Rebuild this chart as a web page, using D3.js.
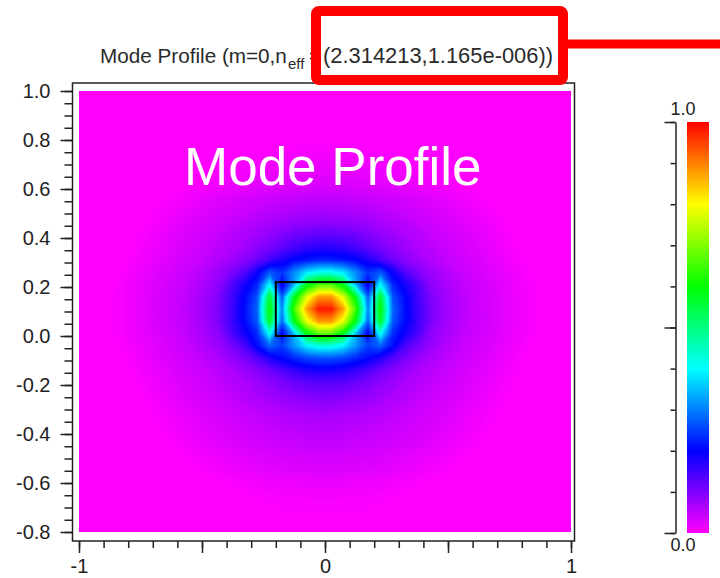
<!DOCTYPE html>
<html>
<head>
<meta charset="utf-8">
<script src="https://cdn.jsdelivr.net/npm/d3@7"></script>
<style>
  body { margin: 0; background: #fff; }
  svg { display: block; }
  text { font-family: "Liberation Sans", Arial, sans-serif; }
</style>
</head>
<body>
<svg id="chart" width="720" height="578"></svg>
<script>
// axis ticks and labels
const xTicks = [-1, 0, 1];
const yTicks = [-0.8, -0.6, -0.4, -0.2, 0, 0.2, 0.4, 0.6, 0.8, 1.0];
const cbarTicks = [0, 1];

// colour map of the solver (value -> colour)
const colorStops = [0, 0.2, 0.4, 0.6, 0.8, 1];
const colorRamp = ["#ff00ff", "#0000ff", "#00ffff", "#00ff00", "#ffff00", "#ff0000"];

// waveguide core outline
const coreX = [-0.2, 0.2];
const coreY = [0, 0.22];

// effective index shown in the title
const neff = ["2.314213", "1.165e-006"];

// sampled mode intensity, per mille of the peak, read off the picture
// columns: x = -0.875 .. 0.875 (step 0.05), rows: y = 0.76 .. -0.69 (step 0.05)
const gridX0 = -0.875, gridY0 = 0.76, gridStep = 0.05;
const intensity = [
  [0,0,0,0,0,0,0,0,0,0,0,0,1,1,2,3,4,4,4,4,3,2,1,1,0,0,0,0,0,0,0,0,0,0,0,0],
  [0,0,0,0,0,0,0,0,0,1,2,4,6,8,10,11,13,13,13,13,11,10,8,6,4,2,1,0,0,0,0,0,0,0,0,0],
  [0,0,0,0,0,0,0,0,1,4,7,10,13,15,18,20,20,21,21,20,20,18,15,13,10,7,4,1,0,0,0,0,0,0,0,0],
  [0,0,0,0,0,0,1,4,7,11,15,19,22,25,28,29,31,32,32,31,29,28,25,22,19,15,11,7,4,1,0,0,0,0,0,0],
  [0,0,0,0,1,4,8,13,19,24,29,33,37,40,43,46,48,49,49,48,46,43,40,37,33,29,24,19,13,8,4,1,0,0,0,0],
  [0,0,0,1,4,8,15,21,27,32,37,42,48,53,59,62,65,67,67,65,62,59,53,48,42,37,32,27,21,15,8,4,1,0,0,0],
  [0,0,0,3,8,15,21,28,34,39,46,54,62,69,76,84,88,90,90,88,84,76,69,62,54,46,39,34,28,21,15,8,3,0,0,0],
  [0,0,1,6,13,20,27,34,39,47,57,66,76,87,100,114,122,126,126,122,114,100,87,76,66,57,47,39,34,27,20,13,6,1,0,0],
  [0,0,3,8,15,23,30,36,44,54,64,75,89,107,125,145,160,168,168,160,145,125,107,89,75,64,54,44,36,30,23,15,8,3,0,0],
  [0,1,5,12,20,27,34,41,51,63,75,92,116,146,177,203,217,227,227,217,203,177,146,116,92,75,63,51,41,34,27,20,12,5,1,0],
  [0,3,9,17,25,32,41,50,63,80,103,134,192,270,240,310,380,410,410,380,310,240,270,192,134,103,80,63,50,41,32,25,17,9,3,0],
  [1,5,12,20,28,36,45,57,71,91,141,184,230,400,180,340,570,660,660,570,340,180,400,230,184,141,91,71,57,45,36,28,20,12,5,1],
  [1,6,13,22,30,38,48,62,78,104,150,205,265,560,270,570,770,880,880,770,570,270,560,265,205,150,104,78,62,48,38,30,22,13,6,1],
  [1,6,14,22,31,39,49,63,80,109,155,210,280,600,300,650,870,980,980,870,650,300,600,280,210,155,109,80,63,49,39,31,22,14,6,1],
  [1,6,14,22,31,39,48,62,80,106,155,208,270,570,280,580,780,880,880,780,580,280,570,270,208,155,106,80,62,48,39,31,22,14,6,1],
  [1,6,13,20,29,36,46,59,73,93,144,187,235,410,190,350,580,670,670,580,350,190,410,235,187,144,93,73,59,46,36,29,20,13,6,1],
  [0,3,9,18,25,33,41,51,64,82,109,141,210,280,250,320,390,420,420,390,320,250,280,210,141,109,82,64,51,41,33,25,18,9,3,0],
  [0,1,6,13,22,29,36,45,55,67,84,106,135,174,206,232,252,263,263,252,232,206,174,135,106,84,67,55,45,36,29,22,13,6,1,0],
  [0,0,4,9,17,24,32,38,46,56,67,79,95,115,137,159,175,183,183,175,159,137,115,95,79,67,56,46,38,32,24,17,9,4,0,0],
  [0,0,1,6,13,20,27,34,40,48,57,67,78,89,103,116,125,130,130,125,116,103,89,78,67,57,48,40,34,27,20,13,6,1,0,0],
  [0,0,1,4,10,17,24,30,36,43,50,59,67,76,85,92,100,105,105,100,92,85,76,67,59,50,43,36,30,24,17,10,4,1,0,0],
  [0,0,0,2,6,12,19,25,32,36,42,48,56,62,68,73,75,79,79,75,73,68,62,56,48,42,36,32,25,19,12,6,2,0,0,0],
  [0,0,0,1,4,8,14,20,26,32,36,41,46,51,56,60,62,64,64,62,60,56,51,46,41,36,32,26,20,14,8,4,1,0,0,0],
  [0,0,0,0,1,6,10,16,22,27,32,36,40,43,48,50,53,55,55,53,50,48,43,40,36,32,27,22,16,10,6,1,0,0,0,0],
  [0,0,0,0,0,3,7,12,18,22,27,32,35,38,41,43,45,46,46,45,43,41,38,35,32,27,22,18,12,7,3,0,0,0,0,0],
  [0,0,0,0,0,0,2,6,9,14,18,22,26,29,32,34,34,35,35,34,34,32,29,26,22,18,14,9,6,2,0,0,0,0,0,0],
  [0,0,0,0,0,0,0,2,5,8,13,16,20,22,25,27,27,28,28,27,27,25,22,20,16,13,8,5,2,0,0,0,0,0,0,0],
  [0,0,0,0,0,0,0,0,1,2,4,6,9,12,14,15,16,17,17,16,15,14,12,9,6,4,2,1,0,0,0,0,0,0,0,0],
  [0,0,0,0,0,0,0,0,0,0,1,2,4,6,7,8,8,9,9,8,8,7,6,4,2,1,0,0,0,0,0,0,0,0,0,0],
  [0,0,0,0,0,0,0,0,0,0,0,1,1,2,3,3,4,4,4,4,3,3,2,1,1,0,0,0,0,0,0,0,0,0,0,0]
];

const svg = d3.select("#chart");
const ink = "#222";

const x = d3.scaleLinear().domain([-1, 1]).range([79, 571]);
const y = d3.scaleLinear().domain([-0.8, 1]).range([532, 91]);
const color = d3.scaleLinear().domain(colorStops).range(colorRamp)
  .interpolate(d3.interpolateRgb).clamp(true);

// ---- field ----
svg.append("rect")
  .attr("x", x(-1)).attr("y", y(1))
  .attr("width", x(1) - x(-1)).attr("height", y(-0.8) - y(1))
  .attr("fill", color(0));

const nx = intensity[0].length, ny = intensity.length;
const levels = d3.range(3, 1000, 3);
const contours = d3.contours().size([nx, ny]).thresholds(levels)(intensity.flat());

const toPx = d3.geoTransform({
  point: function(gx, gy) {
    this.stream.point(x(gridX0 + (gx - 0.5) * gridStep), y(gridY0 - (gy - 0.5) * gridStep));
  }
});
const path = d3.geoPath(toPx);

svg.append("g")
  .selectAll("path")
  .data(contours)
  .join("path")
    .attr("d", path)
    .attr("fill", d => color((d.value + 1.5) / 1000));

// core outline
svg.append("rect")
  .attr("x", x(coreX[0])).attr("y", y(coreY[1]))
  .attr("width", x(coreX[1]) - x(coreX[0]))
  .attr("height", y(coreY[0]) - y(coreY[1]))
  .attr("fill", "none")
  .attr("stroke", "#000")
  .attr("stroke-width", 2);

svg.append("text")
  .attr("x", 184).attr("y", 185)
  .attr("font-size", 53)
  .attr("fill", "#fff")
  .text("Mode Profile");

// ---- frame and axes ----
svg.append("rect")
  .attr("x", 72.5).attr("y", 83)
  .attr("width", 502).attr("height", 458)
  .attr("fill", "none")
  .attr("stroke", ink)
  .attr("stroke-width", 1.5);

function styleAxis(g) {
  g.select(".domain").remove();
  g.selectAll("line").attr("stroke", ink).attr("stroke-width", 1.5);
  g.selectAll("text").attr("fill", ink).attr("font-size", 20)
    .attr("font-family", '"Liberation Sans", Arial, sans-serif');
}

const yMinor = d3.range(-16, 21).map(i => i * 0.05);
svg.append("g").attr("transform", "translate(72.5,0)")
  .call(d3.axisLeft(y).tickValues(yMinor).tickSize(8).tickFormat(""))
  .call(styleAxis);
svg.append("g").attr("transform", "translate(72.5,0)")
  .call(d3.axisLeft(y).tickValues(yTicks).tickSize(12).tickPadding(10)
    .tickFormat(d => d.toFixed(1)))
  .call(styleAxis);

const xMinor = d3.range(-10, 11).map(i => i / 10);
const xMajor = d3.range(-2, 3).map(i => i / 2);
svg.append("g").attr("transform", "translate(0,541)")
  .call(d3.axisBottom(x).tickValues(xMinor).tickSize(7).tickFormat(""))
  .call(styleAxis);
svg.append("g").attr("transform", "translate(0,541)")
  .call(d3.axisBottom(x).tickValues(xMajor).tickSize(12).tickPadding(6)
    .tickFormat(d => xTicks.includes(d) ? String(d) : ""))
  .call(styleAxis);

// ---- colour bar ----
const cb = d3.scaleLinear().domain([0, 1]).range([533, 122]);
const grad = svg.append("defs").append("linearGradient")
  .attr("id", "cbar").attr("x1", 0).attr("y1", 1).attr("x2", 0).attr("y2", 0);
grad.selectAll("stop").data(colorStops).join("stop")
  .attr("offset", d => d)
  .attr("stop-color", (d, i) => colorRamp[i]);

svg.append("rect")
  .attr("x", 687).attr("y", cb(1))
  .attr("width", 22).attr("height", cb(0) - cb(1))
  .attr("fill", "url(#cbar)");

svg.append("g").attr("transform", "translate(675.5,0)")
  .call(d3.axisLeft(cb).tickValues(d3.range(0, 11).map(i => i / 10)).tickSize(5).tickSizeOuter(0).tickFormat(""))
  .call(g => g.select(".domain").attr("stroke", ink).attr("stroke-width", 1.5))
  .call(g => g.selectAll("line").attr("stroke", ink).attr("stroke-width", 1.5));
svg.append("g").attr("transform", "translate(675.5,0)")
  .call(d3.axisLeft(cb).tickValues([0, 0.5, 1]).tickSize(11).tickFormat(""))
  .call(styleAxis);

svg.selectAll(".cblabel")
  .data(cbarTicks)
  .join("text")
    .attr("class", "cblabel")
    .attr("x", 683)
    .attr("y", d => d === 1 ? cb(d) - 7 : cb(d) + 18)
    .attr("text-anchor", "middle")
    .attr("font-size", 18)
    .attr("fill", ink)
    .text(d => d.toFixed(1));

// ---- title ----
const title = svg.append("text")
  .attr("x", 100).attr("y", 63)
  .attr("fill", "#2a2a2a")
  .attr("font-size", 20.7);
title.append("tspan").text("Mode Profile (m=0,n");
title.append("tspan").attr("x", 288).attr("dy", 6).attr("font-size", 15).text("eff");
title.append("tspan").attr("x", 309).attr("dy", -6).text("=");
title.append("tspan").attr("x", 323).attr("font-size", 21.9)
  .text("(" + neff[0] + "," + neff[1] + "))");

// red call-out box
svg.append("rect")
  .attr("x", 316).attr("y", 11)
  .attr("width", 247).attr("height", 69)
  .attr("rx", 3)
  .attr("fill", "none")
  .attr("stroke", "#ff0000")
  .attr("stroke-width", 10);
svg.append("line")
  .attr("x1", 568).attr("x2", 720)
  .attr("y1", 44).attr("y2", 44)
  .attr("stroke", "#ff0000")
  .attr("stroke-width", 9);
</script>
</body>
</html>
